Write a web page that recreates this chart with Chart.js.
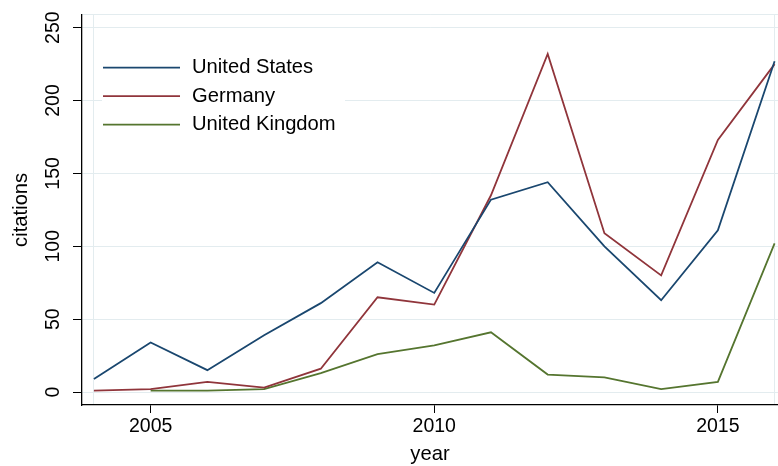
<!DOCTYPE html>
<html>
<head>
<meta charset="utf-8">
<script src="https://cdn.jsdelivr.net/npm/chart.js@4"></script>
<style>
  html, body { margin: 0; padding: 0; background: #fff; }
  #wrap { width: 778px; height: 466px; }
</style>
</head>
<body>
<div id="wrap"><canvas id="chart"></canvas></div>
<script>
const years = [2004, 2005, 2006, 2007, 2008, 2009, 2010, 2011, 2012, 2013, 2014, 2015, 2016]
const unitedStates = [9, 34, 15, 39, 61, 89, 68, 132, 144, 100, 63, 111, 227]
const germany = [1, 2, 7, 3, 16, 65, 60, 135, 232, 109, 80, 173, 225]
const unitedKingdom = [null, 1, 1, 2, 13, 26, 32, 41, 12, 10, 2, 7, 102]
const yTicks = [0, 50, 100, 150, 200, 250]
const xTicks = [2005, 2010, 2015]

const Y_MIN = -8.9, Y_MAX = 258.9
const X_MIN = 2003.79, X_MAX = 2016.06
const gridColor = '#e3ecef'
const family = 'Liberation Sans, Arial, Helvetica, sans-serif'
const font = { family: family, size: 19.5 }
const textFont = { family: family, size: 20.2 }

const pts = arr => years.map((y, i) => ({ x: y, y: arr[i] }))

// legend drawn inside the plot region, like the original
const insideLegend = {
  id: 'insideLegend',
  afterDatasetsDraw(chart) {
    const { ctx, chartArea } = chart
    const x0 = chartArea.left + 20, y0 = chartArea.top + 39
    ctx.save()
    ctx.fillStyle = '#fff'
    ctx.fillRect(x0, y0, 243, 84)
    ctx.font = textFont.size + 'px ' + family
    ctx.textBaseline = 'middle'
    chart.data.datasets.forEach((ds, i) => {
      const y = y0 + 14 + i * 28.5
      ctx.strokeStyle = ds.borderColor
      ctx.lineWidth = 1.8
      ctx.beginPath()
      ctx.moveTo(x0 + 1, y)
      ctx.lineTo(x0 + 78, y)
      ctx.stroke()
      ctx.fillStyle = '#000'
      ctx.fillText(ds.label, x0 + 90, y)
    })
    ctx.restore()
  }
}

new Chart(document.getElementById('chart'), {
  type: 'line',
  data: {
    datasets: [{
      label: 'United States',
      data: pts(unitedStates),
      borderColor: '#1a476f'
    }, {
      label: 'Germany',
      data: pts(germany),
      borderColor: '#90353b'
    }, {
      label: 'United Kingdom',
      data: pts(unitedKingdom),
      borderColor: '#55752f'
    }]
  },
  options: {
    animation: false,
    responsive: true,
    maintainAspectRatio: false,
    devicePixelRatio: 1,
    layout: { padding: { top: 14, right: 0, left: 0, bottom: 0 } },
    elements: {
      line: { borderWidth: 1.8, tension: 0, fill: false },
      point: { radius: 0 }
    },
    plugins: {
      legend: { display: false },
      tooltip: { enabled: false }
    },
    scales: {
      x: {
        type: 'linear',
        min: X_MIN,
        max: X_MAX,
        afterBuildTicks: s => { s.ticks = [2004, ...xTicks, 2016].map(v => ({ value: v })) },
        afterFit: s => { s.height = 61 },
        ticks: {
          color: '#000',
          font: font,
          padding: 2,
          maxRotation: 0,
          callback: v => xTicks.includes(v) ? String(v) : ''
        },
        grid: {
          color: c => (c.tick && (c.tick.value === 2004 || c.tick.value === 2016)) ? gridColor : 'rgba(0,0,0,0)',
          tickColor: c => (c.tick && xTicks.includes(c.tick.value)) ? '#000' : 'rgba(0,0,0,0)',
          tickLength: 8,
          lineWidth: 1
        },
        border: { color: '#000', width: 1.3 },
        title: { display: true, text: 'year', color: '#000', font: textFont, padding: { top: 0, bottom: -1 } }
      },
      y: {
        min: Y_MIN,
        max: Y_MAX,
        afterBuildTicks: s => { s.ticks = [...yTicks, Y_MAX].map(v => ({ value: v })) },
        afterFit: s => { s.width = 82 },
        ticks: {
          color: '#000',
          font: font,
          minRotation: 90,
          maxRotation: 90,
          crossAlign: 'center',
          padding: 3,
          callback: v => yTicks.includes(v) ? String(v) : ''
        },
        grid: {
          color: gridColor,
          tickColor: c => (c.tick && yTicks.includes(c.tick.value)) ? '#000' : 'rgba(0,0,0,0)',
          tickLength: 9,
          lineWidth: 1
        },
        border: { color: '#000', width: 1.3 },
        title: { display: true, text: 'citations', color: '#000', font: textFont, padding: { top: 9, bottom: 0 } }
      }
    }
  },
  plugins: [insideLegend]
})
</script>
</body>
</html>
